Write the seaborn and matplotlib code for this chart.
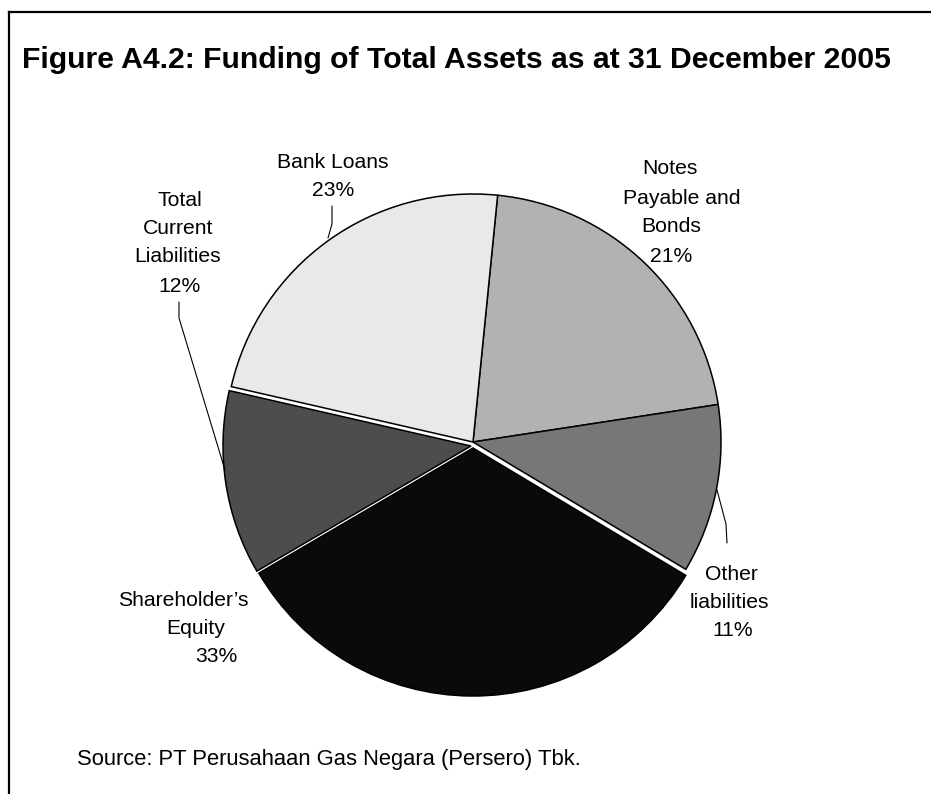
import matplotlib
matplotlib.use("Agg")
import matplotlib.pyplot as plt
import seaborn as sns

sns.set_theme(style="white")
plt.rcParams['font.family'] = ['Liberation Sans', 'DejaVu Sans']

# ---- data ----
categories = ["Notes Payable and Bonds", "Other liabilities", "Shareholder\u2019s Equity",
              "Total Current Liabilities", "Bank Loans"]
shares = [21, 11, 33, 12, 23]
label_lines = [["Notes", "Payable and", "Bonds"],
               ["Other", "liabilities"],
               ["Shareholder\u2019s", "Equity"],
               ["Total", "Current", "Liabilities"],
               ["Bank Loans"]]
colors = ["#b2b2b2", "#777777", "#0a0a0a", "#4d4d4d", "#e9e9e9"]
title = "Figure A4.2: Funding of Total Assets as at 31 December 2005"
source = "Source: PT Perusahaan Gas Negara (Persero) Tbk."

# ---- layout (pixel coordinates of the 931x794 canvas) ----
W, H = 931, 794
def Y(py):
    return H - py

# per-line label centres (name lines, then percentage line)
label_pos = [
    [(670, 168), (682, 197), (671, 226), (671, 255)],
    [(731, 573), (729, 602), (733, 630)],
    [(183, 599), (196, 627), (216, 655)],
    [(180, 199), (178, 227), (178, 256), (180, 285)],
    [(333, 162), (333, 190)],
]
leaders = {
    4: [(332, 206), (332, 224), (328, 238)],
    3: [(179, 302), (179, 318), (225, 470)],
    1: [(717, 490), (726, 524), (727, 543)],
}

fig = plt.figure(figsize=(W / 100, H / 100), dpi=100)
ax = fig.add_axes([0, 0, 1, 1])

cx, cy, r = 473, 442, 248
wedges, _ = ax.pie(shares, colors=colors, startangle=84.3, counterclock=False,
                   center=(cx, Y(cy)), radius=r,
                   explode=[0, 0, 6, 0, 0],
                   wedgeprops=dict(edgecolor="black", linewidth=1.1))
# the current-liabilities slice is pulled slightly down and left in the original
wedges[3].set_center((cx - 2, Y(cy + 4)))

ax.set_xlim(0, W)
ax.set_ylim(0, H)
ax.set_aspect("auto")
ax.axis("off")

for i, lines in enumerate(label_lines):
    texts = lines + [f"{shares[i]}%"]
    for t, (px, py) in zip(texts, label_pos[i]):
        ax.text(px, Y(py + 1), t, ha="center", va="center", fontsize=15.2, color="black")

for i, pts in leaders.items():
    ax.plot([p[0] for p in pts], [Y(p[1]) for p in pts], color="black", lw=0.8,
            solid_joinstyle="round")

ax.text(22, Y(60), title, ha="left", va="center", fontsize=21.7, fontweight="bold", color="black")
ax.text(77, Y(760), source, ha="left", va="center", fontsize=15.8, color="black")

# frame (top and left edges visible)
ax.plot([9, W], [Y(12), Y(12)], color="black", lw=1.6, solid_capstyle="projecting")
ax.plot([9, 9], [Y(12), 0], color="black", lw=1.6, solid_capstyle="projecting")

fig.savefig("out.png", dpi=100)
